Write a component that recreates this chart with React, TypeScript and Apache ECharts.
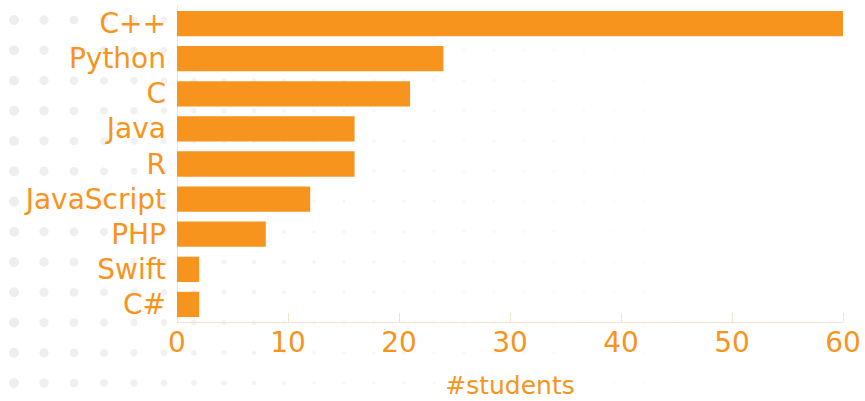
import React, { useEffect, useRef } from "react";
import * as echarts from "echarts";

const categories = ["C++", "Python", "C", "Java", "R", "JavaScript", "PHP", "Swift", "C#"];
const students = [60, 24, 21, 16, 16, 12, 8, 2, 2];
const axisName = "#students";

const ORANGE = "#f7941d";
const FONT = "'DejaVu Sans', sans-serif";

export default function App() {
  const ref = useRef<HTMLDivElement>(null);
  useEffect(() => {
    if (!ref.current) return;
    const chart = echarts.init(ref.current, undefined, { renderer: "svg" });
    const dots: any[] = [];
    for (let i = 0; i < 29; i++) {
      for (let j = 0; j < 13; j++) {
        const r = Math.max(1.6, 5 - 0.33 * i);
        const op = Math.max(0, 1 - i * 0.04);
        dots.push({
          type: "circle",
          silent: true,
          z: -10,
          shape: { cx: 14 + 30 * i, cy: 20 + 30.25 * j, r },
          style: { fill: "#eeeeee", opacity: op },
        });
      }
    }
    chart.setOption({
      animation: false,
      backgroundColor: "#ffffff",
      graphic: { elements: dots },
      grid: { left: 177, right: 22, top: 6, bottom: 79, containLabel: false, outerBoundsMode: "none" },
      xAxis: {
        type: "value",
        min: 0,
        max: 60,
        interval: 10,
        name: axisName,
        nameLocation: "middle",
        nameGap: 51,
        nameTextStyle: { color: ORANGE, fontSize: 25, fontFamily: FONT },
        axisLine: { show: true, lineStyle: { color: "#f9e2cb", width: 1 } },
        axisTick: { show: true, inside: true, length: 9, lineStyle: { color: "#f9e2cb" } },
        splitLine: { show: false },
        axisLabel: { color: ORANGE, fontSize: 28, fontFamily: FONT, margin: 6 },
      },
      yAxis: {
        type: "category",
        data: categories,
        inverse: true,
        axisLine: { show: true, lineStyle: { color: "#f9e2cb", width: 1 } },
        axisTick: { show: false },
        axisLabel: { color: ORANGE, fontSize: 28, fontFamily: FONT, margin: 11, interval: 0 },
      },
      series: [
        {
          type: "bar",
          data: students,
          barCategoryGap: "28%",
          itemStyle: { color: ORANGE },
        },
      ],
    });
    return () => chart.dispose();
  }, []);
  return <div ref={ref} style={{ width: 865, height: 401, position: "absolute", left: 0, top: 0 }} />;
}
